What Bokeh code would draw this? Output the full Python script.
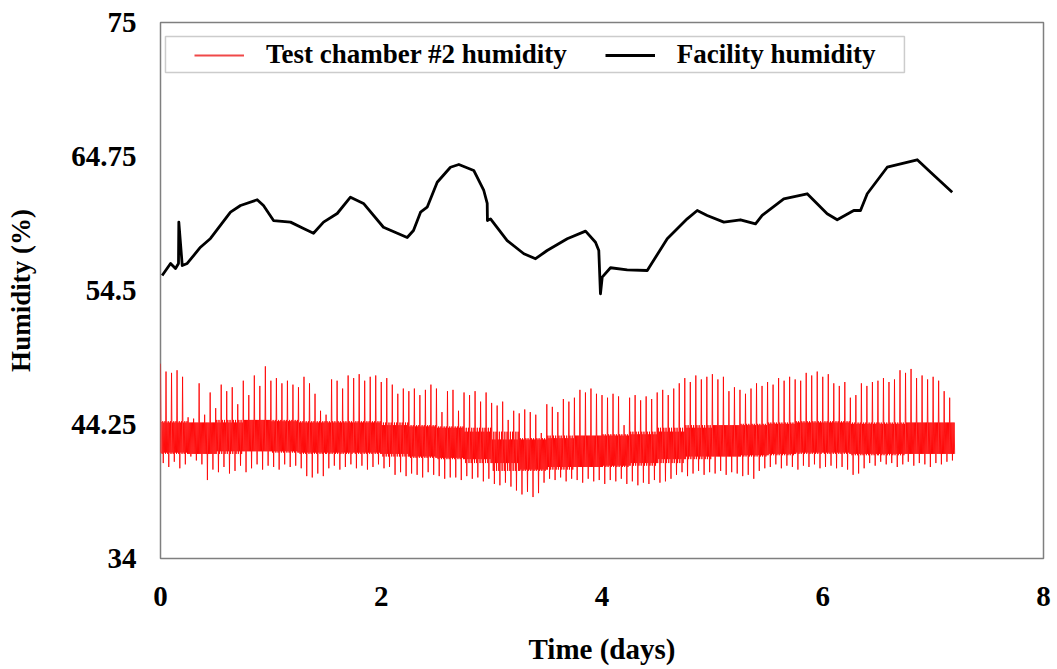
from bokeh.plotting import figure
from bokeh.models import FixedTicker, Legend, LegendItem, BoxAnnotation
from bokeh.embed import file_html
from bokeh.resources import INLINE

# ---------------- data ----------------
x_ticks = [0, 2, 4, 6, 8]
y_ticks = [34, 44.25, 54.5, 64.75, 75]
y_tick_labels = ["34", "44.25", "54.5", "64.75", "75"]

# Facility humidity (black line)
facility_t = [0.015, 0.091, 0.136, 0.163, 0.166, 0.197, 0.242, 0.362, 0.453, 0.634,
              0.725, 0.876, 0.933, 1.024, 1.178, 1.296, 1.386, 1.477, 1.601, 1.721,
              1.839, 2.020, 2.235, 2.292, 2.356, 2.416, 2.507, 2.627, 2.703, 2.838,
              2.929, 2.960, 2.962, 2.990, 3.141, 3.292, 3.398, 3.503, 3.685, 3.851,
              3.941, 3.971, 3.986, 4.002, 4.077, 4.228, 4.410, 4.591, 4.772, 4.863,
              4.953, 5.104, 5.255, 5.391, 5.451, 5.647, 5.859, 6.040, 6.131, 6.281,
              6.342, 6.403, 6.584, 6.856, 6.977, 7.173]
facility_h = [55.65, 56.57, 56.18, 56.57, 59.73, 56.41, 56.57, 57.81, 58.48, 60.49,
              61.00, 61.44, 61.00, 59.85, 59.73, 59.24, 58.88, 59.73, 60.39, 61.64,
              61.16, 59.34, 58.55, 59.09, 60.49, 60.87, 62.78, 63.93, 64.14, 63.68,
              62.15, 61.16, 59.85, 59.98, 58.32, 57.31, 56.93, 57.56, 58.46, 59.04,
              58.19, 57.56, 54.25, 55.52, 56.24, 56.08, 56.03, 58.46, 59.98, 60.62,
              60.24, 59.73, 59.91, 59.60, 60.24, 61.51, 61.90, 60.37, 59.91, 60.62,
              60.62, 61.90, 63.93, 64.50, 63.55, 62.02]

# Test chamber #2 humidity (red): one spike cycle every 0.05 day
chamber_cycle_days = 0.05
chamber_peaks = [
    48.9, 48.3, 48.2, 48.4, 47.9, 44.8, 44.7, 47.4, 45.0, 46.7,
    45.5, 47.3, 46.8, 47.1, 45.8, 47.6, 46.5, 48.0, 47.2, 48.7,
    47.6, 47.8, 47.4, 47.6, 47.3, 47.1, 47.9, 47.4, 46.6, 45.3,
    45.0, 47.7, 47.6, 47.0, 48.0, 47.8, 48.1, 47.6, 47.9, 48.0,
    47.5, 47.8, 47.3, 46.6, 47.0, 46.8, 47.0, 46.5, 46.9, 47.3,
    47.0, 45.2, 46.8, 46.9, 45.3, 46.7, 46.5, 46.8, 46.0, 46.7,
    45.9, 45.7, 46.0, 44.6, 45.3, 45.1, 45.4, 45.2, 45.0, 43.6,
    45.8, 45.6, 45.2, 46.2, 46.0, 46.3, 46.9, 46.7, 47.0, 46.6,
    46.5, 46.3, 46.6, 46.4, 44.2, 46.3, 46.5, 46.1, 46.4, 46.2,
    46.7, 46.9, 46.5, 47.0, 47.4, 47.8, 47.5, 48.0, 47.7, 47.9,
    48.1, 47.7, 47.9, 46.8, 47.1, 46.9, 46.6, 47.0, 47.4, 47.2,
    47.5, 47.3, 47.8, 47.6, 47.9, 47.7, 47.6, 48.2, 48.0, 48.3,
    47.9, 48.1, 47.4, 47.2, 47.5, 46.3, 46.5, 47.4, 47.2, 47.5,
    47.6, 47.8, 47.5, 47.7, 48.4, 48.2, 48.5, 47.8, 48.0, 47.7,
    47.9, 47.6, 46.8, 46.3]
chamber_troughs = [
    41.3, 41.0, 41.4, 40.9, 41.2, 41.8, 41.5, 41.2, 40.0, 40.8,
    40.6, 41.0, 40.5, 40.7, 41.1, 40.6, 40.9, 41.2, 40.8, 41.1,
    41.0, 40.8, 41.2, 41.0, 41.1, 40.9, 40.3, 40.2, 40.5, 40.3,
    40.9, 41.1, 40.8, 41.0, 41.2, 40.9, 41.1, 40.8, 41.0, 41.2,
    40.9, 41.0, 40.4, 40.6, 40.3, 40.5, 40.4, 40.2, 40.6, 40.4,
    40.3, 40.1, 40.2, 40.2, 40.0, 40.3, 40.1, 40.2, 39.9, 40.1,
    39.7, 39.6, 39.8, 39.5, 39.2, 38.9, 39.1, 38.7, 39.0, 39.8,
    40.1, 40.0, 40.2, 39.9, 40.1, 40.0, 39.8, 40.1, 39.9, 40.0,
    39.7, 40.0, 39.9, 40.1, 39.7, 39.9, 39.6, 39.8, 39.7, 40.0,
    39.8, 39.9, 40.1, 40.4, 40.6, 40.3, 40.5, 40.7, 40.4, 40.6,
    40.5, 40.7, 40.4, 40.6, 40.5, 40.3, 40.4, 40.1, 40.7, 40.9,
    41.0, 41.2, 40.9, 41.1, 41.0, 40.8, 41.1, 41.0, 41.2, 40.9,
    41.0, 41.1, 40.9, 41.0, 40.8, 40.4, 40.5, 40.9, 41.3, 41.1,
    41.4, 41.2, 41.3, 41.0, 41.2, 41.4, 41.1, 41.3, 41.2, 41.0,
    41.3, 41.2, 41.4, 41.5]
# dense oscillation band between spikes, per quarter day (0, 0.25, ... 7.0)
chamber_band_hi = [44.5, 44.4, 44.4, 44.6, 44.6, 44.5, 44.4, 44.5, 44.4, 44.2,
                   44.1, 44.0, 43.7, 43.1, 43.2, 43.4, 43.4, 43.5, 43.7, 44.0,
                   44.2, 44.2, 44.3, 44.4, 44.5, 44.4, 44.3, 44.4, 44.4]
chamber_band_lo = [42.1, 42.0, 42.0, 42.2, 42.2, 42.1, 42.0, 42.1, 42.0, 41.8,
                   41.7, 41.6, 41.3, 40.7, 40.8, 41.0, 41.0, 41.1, 41.3, 41.6,
                   41.8, 41.8, 41.9, 42.0, 42.1, 42.0, 41.9, 42.0, 42.0]

# build the red trace from the read values
chamber_t, chamber_h = [], []
for i, (pk, tr) in enumerate(zip(chamber_peaks, chamber_troughs)):
    t0 = i * chamber_cycle_days
    k = min(int(t0 / 0.25), len(chamber_band_hi) - 1)
    k2 = min(k + 1, len(chamber_band_hi) - 1)
    hi, lo = chamber_band_hi[k], chamber_band_lo[k]
    hi2, lo2 = chamber_band_hi[k2], chamber_band_lo[k2]
    seq = [pk, lo, hi2, lo2, hi, tr, hi2, lo, hi, lo2]
    for j, val in enumerate(seq):
        chamber_t.append(t0 + j * chamber_cycle_days / len(seq))
        chamber_h.append(val)

# ---------------- figure ----------------
FONT = "Liberation Serif"

p = figure(width=1057, height=669, x_range=(0, 8), y_range=(34, 75),
           output_backend="svg", toolbar_location=None,
           min_border_left=160, min_border_right=14,
           min_border_top=22, min_border_bottom=111)
p.background_fill_color = "white"
p.border_fill_color = "white"
p.outline_line_color = "#7f7f7f"
p.outline_line_width = 1.5
p.grid.visible = False

r_red = p.line(chamber_t, chamber_h, line_color="#ff0000", line_width=1, line_alpha=0.85)
# legend swatch for the red series: a short piece of the same trace, hidden inside it
r_red_key = p.line(chamber_t[1:3], chamber_h[1:3], line_color="#f04848", line_width=1.8)
r_blk = p.line(facility_t, facility_h, line_color="black", line_width=2.8, line_join="round")

for ax in (p.xaxis[0], p.yaxis[0]):
    ax.axis_line_color = None
    ax.major_tick_line_color = None
    ax.minor_tick_line_color = None
    ax.major_label_text_font = FONT
    ax.major_label_text_font_style = "bold"
    ax.major_label_text_font_size = "29px"
    ax.major_label_text_color = "black"
    ax.axis_label_text_font = FONT
    ax.axis_label_text_font_style = "bold"
    ax.axis_label_text_color = "black"

p.xaxis.ticker = FixedTicker(ticks=x_ticks)
p.xaxis.axis_label = "Time (days)"
p.xaxis.axis_label_text_font_size = "29px"
p.xaxis.major_label_standoff = 22
p.xaxis.axis_label_standoff = 24

p.yaxis.ticker = FixedTicker(ticks=y_ticks)
p.yaxis.major_label_overrides = {t: s for t, s in zip(y_ticks, y_tick_labels)}
p.yaxis.axis_label = "Humidity (%)"
p.yaxis.axis_label_text_font_size = "27px"
p.yaxis.major_label_standoff = 18
p.yaxis.axis_label_standoff = 32

# legend frame (drawn as a box) + legend items
legend_box = BoxAnnotation(left=0.045, right=6.74, top=73.93, bottom=71.18,
                           fill_color="white", fill_alpha=1,
                           line_color="#555555", line_width=1.5)
p.add_layout(legend_box)

legend = Legend(items=[LegendItem(label="Test chamber #2 humidity", renderers=[r_red_key]),
                       LegendItem(label="Facility humidity", renderers=[r_blk])],
                orientation="horizontal", location=(34, 488))
legend.label_text_font = FONT
legend.label_text_font_style = "bold"
legend.label_text_font_size = "27px"
legend.label_text_color = "black"
legend.border_line_color = None
legend.background_fill_alpha = 0
legend.glyph_width = 50
legend.label_standoff = 22
legend.spacing = 38
legend.padding = 0
legend.margin = 0
p.add_layout(legend)

open("out.html", "w").write(file_html(p, INLINE))
